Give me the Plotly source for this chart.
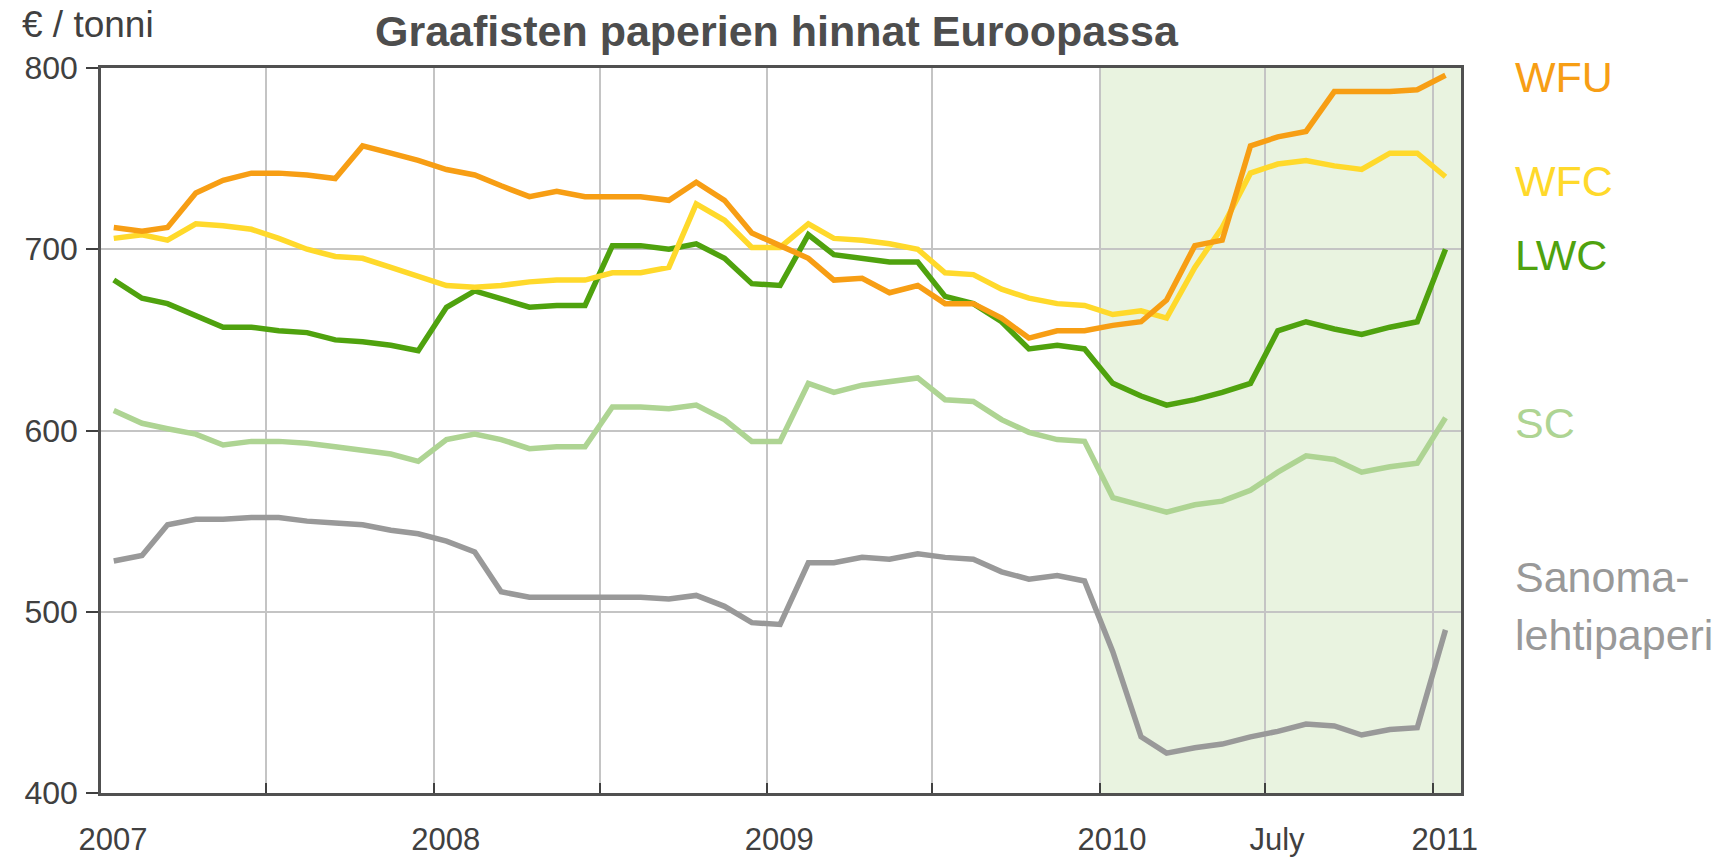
import plotly.graph_objects as go

months = [f"{2007 + i // 12}-{i % 12 + 1:02d}-15" for i in range(49)]

wfu = [712, 710, 712, 731, 738, 742, 742, 741, 739, 757, 753, 749,
       744, 741, 735, 729, 732, 729, 729, 729, 727, 737, 727, 709,
       702, 695, 683, 684, 676, 680, 670, 670, 662, 651, 655, 655,
       658, 660, 672, 702, 705, 757, 762, 765, 787, 787, 787, 788, 796]
wfc = [706, 708, 705, 714, 713, 711, 706, 700, 696, 695, 690, 685,
       680, 679, 680, 682, 683, 683, 687, 687, 690, 725, 716, 701,
       701, 714, 706, 705, 703, 700, 687, 686, 678, 673, 670, 669,
       664, 666, 662, 690, 712, 742, 747, 749, 746, 744, 753, 753, 740]
lwc = [683, 673, 670, 663, 657, 657, 655, 654, 650, 649, 647, 644,
       668, 677, 673, 668, 669, 669, 702, 702, 700, 703, 695, 681,
       680, 708, 697, 695, 693, 693, 674, 670, 660, 645, 647, 645,
       626, 619, 614, 617, 621, 626, 655, 660, 656, 653, 657, 660, 700]
sc = [611, 604, 601, 598, 592, 594, 594, 593, 591, 589, 587, 583,
      595, 598, 595, 590, 591, 591, 613, 613, 612, 614, 606, 594,
      594, 626, 621, 625, 627, 629, 617, 616, 606, 599, 595, 594,
      563, 559, 555, 559, 561, 567, 577, 586, 584, 577, 580, 582, 607]
sanoma = [528, 531, 548, 551, 551, 552, 552, 550, 549, 548, 545, 543,
          539, 533, 511, 508, 508, 508, 508, 508, 507, 509, 503, 494,
          493, 527, 527, 530, 529, 532, 530, 529, 522, 518, 520, 517,
          478, 431, 422, 425, 427, 431, 434, 438, 437, 432, 435, 436, 490]

series_names = ["Sanoma-<br>lehtipaperi", "SC", "LWC", "WFC", "WFU"]
series_values = [sanoma, sc, lwc, wfc, wfu]
series_colors = ["#999999", "#AED493", "#4FA20E", "#FFD92B", "#F79E14"]
label_texts = ["Sanoma-", "lehtipaperi", "SC", "LWC", "WFC", "WFU"]
label_values = [519, 487, 604, 697, 737.6, 795]
label_colors = ["#999999", "#999999", "#AED493", "#4FA20E", "#FFD92B", "#F79E14"]

tick_dates = ["2007-01-01", "2007-07-01", "2008-01-01", "2008-07-01", "2009-01-01",
              "2009-07-01", "2010-01-01", "2010-07-01", "2011-01-01"]
tick_text = ["2007", "", "2008", "", "2009", "", "2010", "July", "2011"]
y_ticks = [400, 500, 600, 700, 800]

FONT = "Liberation Sans, Arial, sans-serif"

fig = go.Figure()
for name, vals, col in zip(series_names, series_values, series_colors):
    fig.add_trace(go.Scatter(x=months, y=vals, mode="lines", name=name,
                             line=dict(color=col, width=5.5), showlegend=False,
                             hoverinfo="skip"))

fig.add_shape(type="rect", xref="x", yref="paper", x0="2010-01-01", x1="2011-02-01",
              y0=0, y1=1, fillcolor="#E9F3E0", line=dict(width=0), layer="below")

for txt, val, col in zip(label_texts, label_values, label_colors):
    fig.add_annotation(text=txt, xref="paper", yref="y", x=1.038, y=val,
                       xanchor="left", yanchor="middle", showarrow=False,
                       font=dict(family=FONT, size=43, color=col))

fig.add_annotation(text="<b>Graafisten paperien hinnat Euroopassa</b>", xref="paper", yref="paper",
                   x=(777 - 101) / 1360, y=1 + (68 - 31) / 725, xanchor="center", yanchor="middle",
                   showarrow=False, font=dict(family=FONT, size=43, color="#4D4D4D"))
fig.add_annotation(text="€ / tonni", xref="paper", yref="paper",
                   x=(20 - 101) / 1360, y=1 + (68 - 25) / 725, xanchor="left", yanchor="middle",
                   showarrow=False, font=dict(family=FONT, size=37, color="#404040"))

fig.update_layout(
    width=1722, height=858,
    margin=dict(l=101, r=261, t=68, b=65, autoexpand=False),
    paper_bgcolor="white", plot_bgcolor="white",
    font=dict(family=FONT, color="#404040"),
    hovermode=False,
    xaxis=dict(type="date", range=["2007-01-01", "2011-02-01"],
               tickvals=tick_dates, ticktext=tick_text, automargin=False,
               ticks="inside", ticklen=10, tickwidth=2, tickcolor="#404040",
               showgrid=True, gridcolor="#C4C4C4", gridwidth=1.8,
               showline=True, linecolor="#505050", linewidth=2.5, mirror=True,
               tickfont=dict(size=31, color="#404040"), ticklabelshift=12,
               ticklabelstandoff=17, zeroline=False),
    yaxis=dict(range=[400, 800], tickvals=y_ticks, automargin=False,
               ticks="outside", ticklen=12, tickwidth=2, tickcolor="#404040",
               showgrid=True, gridcolor="#C4C4C4", gridwidth=1.8,
               showline=True, linecolor="#505050", linewidth=2.5, mirror=True,
               tickfont=dict(size=32, color="#404040"), ticklabelstandoff=2,
               zeroline=False),
)

fig.write_html("out.html", config={"displayModeBar": False},
               post_script="document.body.style.margin='0';")
